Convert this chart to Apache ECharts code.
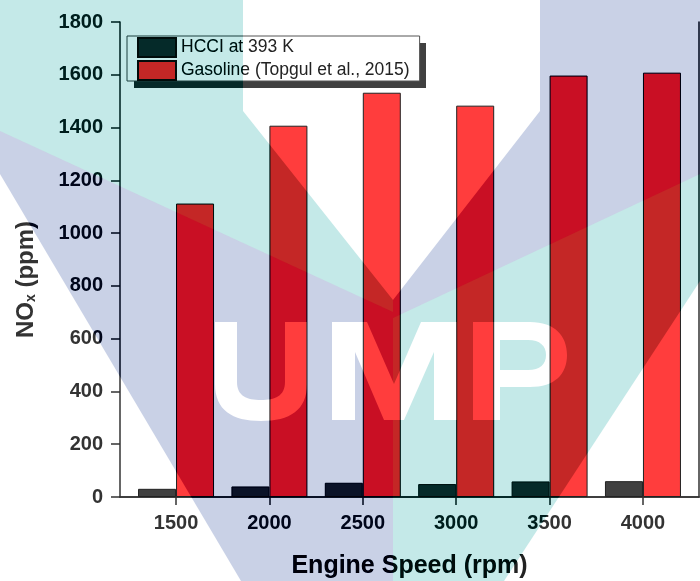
<!DOCTYPE html>
<html>
<head>
<meta charset="utf-8">
<script src="https://cdn.jsdelivr.net/npm/echarts@6/dist/echarts.min.js"></script>
<style>
html, body { margin: 0; padding: 0; background: #fff; }
#chart { width: 700px; height: 581px; }
</style>
</head>
<body>
<div id="chart"></div>
<script>
// engine speed (rpm) and NOx (ppm)
const speeds = [1500, 2000, 2500, 3000, 3500, 4000];
const hcciNox = [31, 40, 54, 49, 59, 60];
const gasolineNox = [1112, 1407, 1532, 1483, 1597, 1608];
const seriesNames = ['HCCI at 393 K', 'Gasoline (Topgul et al., 2015)'];

const FONT = '"Liberation Sans", Arial, Helvetica, sans-serif';
const axisColor = '#333';

const chart = echarts.init(document.getElementById('chart'), null, { renderer: 'canvas' });

chart.setOption({
    animation: false,
    backgroundColor: '#ffffff',
    textStyle: { fontFamily: FONT },
    grid: { left: 120, right: 1, top: 22, bottom: 84, outerBoundsMode: 'none' },
    // hard drop shadow behind the legend box
    graphic: [{
        type: 'rect',
        z: 3,
        silent: true,
        shape: { x: 134, y: 43, width: 292, height: 45 },
        style: { fill: '#404040' }
    }],
    legend: {
        orient: 'vertical',
        left: 127,
        top: 36,
        icon: 'rect',
        itemWidth: 38,
        itemHeight: 19,
        itemGap: 2,
        padding: [1, 10, 0, 10],
        backgroundColor: '#fff',
        borderColor: '#555',
        borderWidth: 1,
        textStyle: { fontSize: 17.5, color: '#222', fontFamily: FONT },
        data: seriesNames
    },
    xAxis: [{
        type: 'value',
        min: 1200,
        max: 4300,
        position: 'bottom',
        axisLine: { show: true, lineStyle: { color: axisColor, width: 1.5 } },
        axisTick: { show: true, length: 8, customValues: speeds, lineStyle: { color: axisColor, width: 1.5 } },
        axisLabel: { customValues: speeds, margin: 16, fontSize: 20, fontWeight: 'bold', color: axisColor, formatter: v => String(v) },
        splitLine: { show: false },
        name: 'Engine Speed (rpm)',
        nameLocation: 'middle',
        nameGap: 57,
        nameTextStyle: { fontSize: 25, fontWeight: 'bold', color: '#222' }
    }, {
        type: 'value',
        min: 1200,
        max: 4300,
        position: 'top',
        axisLine: { show: true, lineStyle: { color: axisColor, width: 1.5 } },
        axisTick: { show: true, inside: true, length: 8, customValues: speeds, lineStyle: { color: axisColor, width: 1.5 } },
        axisLabel: { show: false },
        splitLine: { show: false }
    }],
    yAxis: [{
        type: 'value',
        min: 0,
        max: 1800,
        interval: 200,
        axisLine: { show: true, lineStyle: { color: axisColor, width: 1.5 } },
        axisTick: { show: true, length: 9, lineStyle: { color: axisColor, width: 1.5 } },
        axisLabel: { margin: 17, fontSize: 20, fontWeight: 'bold', color: axisColor, formatter: v => String(v) },
        splitLine: { show: false },
        name: '{a|NO}{s|x}{a| (ppm)}',
        nameLocation: 'middle',
        nameGap: 82,
        nameTextStyle: {
            padding: [0, 40, 0, 0],
            rich: {
                a: { fontSize: 24, fontWeight: 'bold', color: axisColor, fontFamily: FONT },
                s: { fontSize: 14, fontWeight: 'bold', color: axisColor, fontFamily: FONT, verticalAlign: 'bottom' }
            }
        }
    }, {
        type: 'value',
        min: 0,
        max: 1800,
        position: 'right',
        axisLine: { show: true, lineStyle: { color: axisColor, width: 1.5 } },
        axisTick: { show: false },
        axisLabel: { show: false },
        splitLine: { show: false }
    }],
    series: [{
        name: seriesNames[0],
        type: 'bar',
        barWidth: 38,
        barGap: '0%',
        itemStyle: { color: '#404040', borderColor: '#222', borderWidth: 1 },
        data: speeds.map((s, i) => [s, hcciNox[i]])
    }, {
        name: seriesNames[1],
        type: 'bar',
        barWidth: 38,
        barGap: '0%',
        itemStyle: { color: '#ff3d3d', borderColor: '#222', borderWidth: 1 },
        data: speeds.map((s, i) => [s, gasolineNox[i]])
    }]
});

// UMP watermark laid over everything (linear burn: invert, add inverted tint, invert back)
const G = echarts.graphic;
const zr = chart.getZr();
const lavenderInv = '#362e19'; // 1 - #c9d1e6
const tealInv = '#3b1617';     // 1 - #c4e9e8
const wmShapes = [
    { fill: tealInv, points: [[0, 0], [243, 0], [243, 111], [393, 300], [393, 312], [0, 131]] },
    { fill: lavenderInv, points: [[540, 0], [700, 0], [700, 174], [393, 318], [393, 300], [540, 111]] },
    { fill: lavenderInv, points: [[0, 131], [393, 312], [393, 581], [241, 581], [0, 174]] },
    { fill: tealInv, points: [[393, 318], [700, 174], [700, 281], [504, 581], [393, 581]] }
];
// letter cut-outs of the logo
const letterU = 'M215,322 L237,322 L237,382 C237,396 247,400 261,400 C275,400 285,396 285,382 L285,322 L307,322 L307,384 C307,410 290,421 261,421 C232,421 215,410 215,384 Z';
const letterM = 'M332,420 L332,322 L367,322 L394,384 L421,322 L457,322 L457,420 L434,420 L434,352 L404,420 L384,420 L355,352 L355,420 Z';
const letterP = 'M473,420 L473,322 L530,322 C555,322 567,336 567,355 C567,374 555,387 530,387 L500,387 L500,420 Z M500,340 L500,370 L528,370 C540,370 546,364 546,355 C546,346 540,340 528,340 Z';
const wmLetters = [
    { path: letterU, fill: lavenderInv, clip: [0, 700] },
    { path: letterM, fill: lavenderInv, clip: [0, 393] },
    { path: letterM, fill: tealInv, clip: [393, 700] },
    { path: letterP, fill: tealInv, clip: [0, 700] }
];

zr.add(new G.Rect({ shape: { x: 0, y: 0, width: 700, height: 581 }, style: { fill: '#fff', blend: 'difference' }, z: 100, silent: true }));
wmShapes.forEach(s => {
    zr.add(new G.Polygon({ shape: { points: s.points }, style: { fill: s.fill, blend: 'lighter' }, z: 101, silent: true }));
});
wmLetters.forEach(l => {
    const p = G.makePath(l.path, { style: { fill: l.fill, blend: 'difference' }, z: 102, silent: true });
    p.setClipPath(new G.Rect({ shape: { x: l.clip[0], y: 0, width: l.clip[1] - l.clip[0], height: 581 } }));
    zr.add(p);
});
zr.add(new G.Rect({ shape: { x: 0, y: 0, width: 700, height: 581 }, style: { fill: '#fff', blend: 'difference' }, z: 103, silent: true }));
</script>
</body>
</html>
